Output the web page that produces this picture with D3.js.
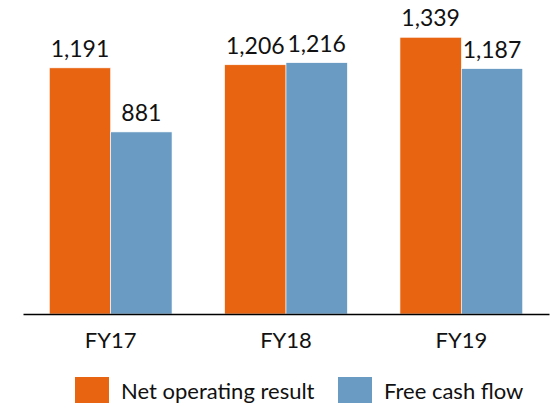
<!DOCTYPE html>
<html>
<head>
<meta charset="utf-8">
<script src="https://cdn.jsdelivr.net/npm/d3@7"></script>
<style>
  body { margin: 0; background: #fff; }
  text { font-family: Lato, "Open Sans", sans-serif; fill: #111; }
</style>
</head>
<body>
<svg id="chart" width="556" height="404"></svg>
<script>
// data
const years = ["FY17", "FY18", "FY19"];
const seriesNames = ["Net operating result", "Free cash flow"];
const netOperating = [1191, 1206, 1339];
const freeCashFlow = [881, 1216, 1187];
const colors = ["#E96410", "#6A9BC3"];

const chart = d3.select("#chart");
const baseline = 314;

const x0 = d3.scaleBand()
  .domain(years)
  .range([23, 549])
  .paddingInner(0.3)
  .paddingOuter(0.15);

const x1 = d3.scaleBand()
  .domain(seriesNames)
  .range([0, x0.bandwidth()]);

const y = d3.scaleLinear().domain([0, 1500]).range([baseline, 4]);

const rows = years.map((yr, i) => ({
  year: yr,
  values: [
    { name: seriesNames[0], value: netOperating[i], color: colors[0] },
    { name: seriesNames[1], value: freeCashFlow[i], color: colors[1] },
  ],
}));

// bars grouped by year
const groups = chart
  .selectAll("g.year")
  .data(rows)
  .enter()
  .append("g")
  .attr("class", "year")
  .attr("transform", (d) => `translate(${x0(d.year)},0)`);

groups
  .selectAll("rect")
  .data((d) => d.values)
  .enter()
  .append("rect")
  .attr("x", (d) => x1(d.name))
  .attr("y", (d) => y(d.value))
  .attr("width", x1.bandwidth())
  .attr("height", (d) => baseline - y(d.value))
  .attr("fill", (d) => d.color)
  .attr("stroke", "#fff")
  .attr("stroke-width", 0.6);

// value labels
groups
  .selectAll("text.val")
  .data((d) => d.values)
  .enter()
  .append("text")
  .attr("class", "val")
  .attr("x", (d) => x1(d.name) + x1.bandwidth() / 2)
  .attr("y", (d) => y(d.value) - 11)
  .attr("text-anchor", "middle")
  .style("font-size", "23px")
  .text((d) => d3.format(",")(d.value));

// x axis
const xAxis = chart
  .append("g")
  .attr("transform", `translate(0,${baseline})`)
  .call(d3.axisBottom(x0).tickSize(0).tickPadding(18));
xAxis.select(".domain").attr("stroke", "#000").attr("stroke-width", 1.5);
xAxis.selectAll("text")
  .style("font-size", "22px")
  .style("font-family", "Lato, 'Open Sans', sans-serif")
  .attr("fill", "#111");

// legend
const legendX = [75, 338];
const legend = chart
  .selectAll("g.legend")
  .data(seriesNames)
  .enter()
  .append("g")
  .attr("class", "legend")
  .attr("transform", (d, i) => `translate(${legendX[i]},377)`);

legend
  .append("rect")
  .attr("width", 34)
  .attr("height", 26)
  .attr("fill", (d, i) => colors[i]);

legend
  .append("text")
  .attr("x", 46)
  .attr("y", 22)
  .style("font-size", "22px")
  .text((d) => d);
</script>
</body>
</html>
